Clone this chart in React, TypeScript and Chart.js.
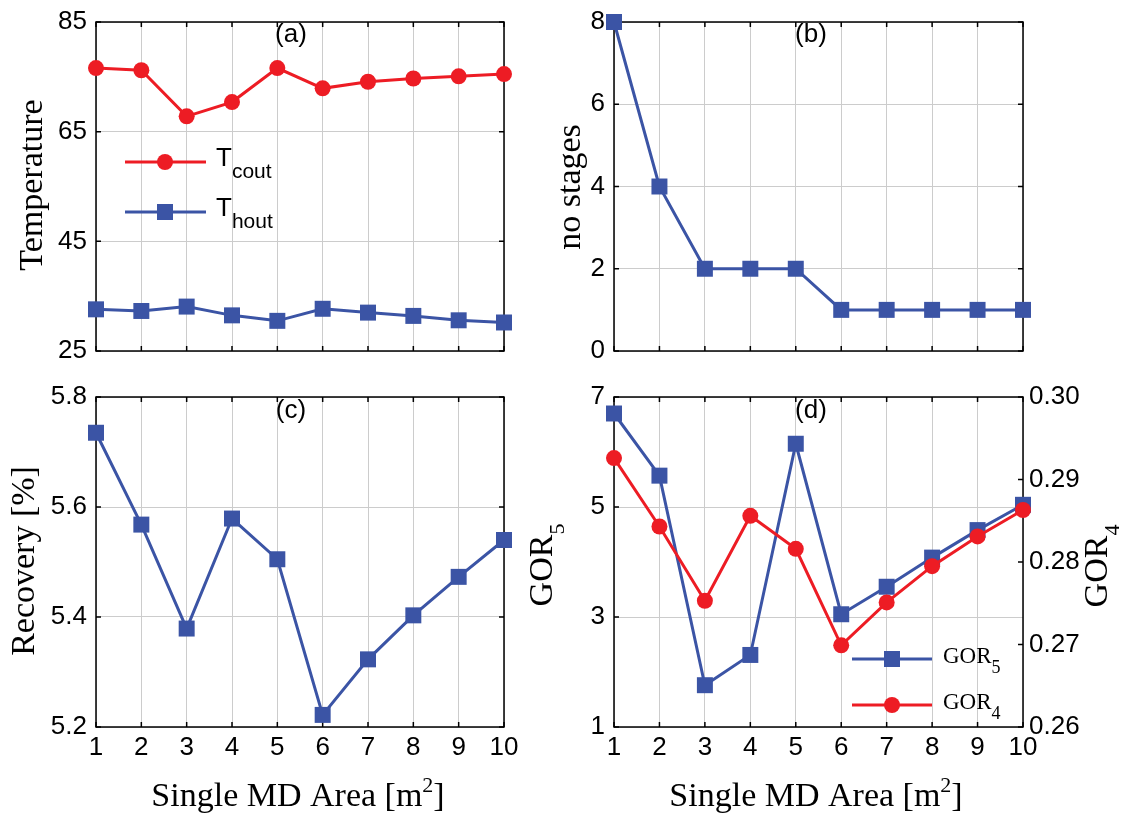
import React, { useEffect, useRef } from "react";
import { Chart, registerables } from "chart.js";

Chart.register(...registerables);

// ---------------- data ----------------
const xValues = [1, 2, 3, 4, 5, 6, 7, 8, 9, 10];
const xTickLabels = ["1", "2", "3", "4", "5", "6", "7", "8", "9", "10"];

const tCout = [76.6, 76.2, 67.8, 70.4, 76.6, 72.9, 74.1, 74.7, 75.1, 75.5];
const tHout = [32.6, 32.3, 33.1, 31.5, 30.5, 32.7, 32.0, 31.4, 30.6, 30.2];
const noStages = [8, 4, 2, 2, 2, 1, 1, 1, 1, 1];
const recovery = [5.735, 5.568, 5.379, 5.579, 5.505, 5.222, 5.323, 5.403, 5.473, 5.54];
const gor5 = [6.7, 5.57, 1.76, 2.31, 6.15, 3.05, 3.55, 4.08, 4.58, 5.04];
const gor4 = [0.2926, 0.2843, 0.2753, 0.2856, 0.2816, 0.2699, 0.2751, 0.2795, 0.2831, 0.2863];

const tempTicks = [25, 45, 65, 85];
const tempTickLabels = ["25", "45", "65", "85"];
const stageTicks = [0, 2, 4, 6, 8];
const stageTickLabels = ["0", "2", "4", "6", "8"];
const recoveryTicks = [5.2, 5.4, 5.6, 5.8];
const recoveryTickLabels = ["5.2", "5.4", "5.6", "5.8"];
const gor5Ticks = [1, 3, 5, 7];
const gor5TickLabels = ["1", "3", "5", "7"];
const gor4Ticks = [0.26, 0.27, 0.28, 0.29, 0.3];
const gor4TickLabels = ["0.26", "0.27", "0.28", "0.29", "0.30"];

// ---------------- style ----------------
const RED = "#ED1C24";
const BLUE = "#3B54A5";
const GRID = "#cccccc";
const SANS = '"Liberation Sans", Arial, Helvetica, sans-serif';
const SERIF = '"Liberation Serif", "Times New Roman", Times, serif';
const W = 1122;
const H = 816;
const AX_W = 90;
const AX_H = 40;
const TICK_FONT = 26;

type Part = { text: string; kind?: "sub" | "sup" };
type TStyle = { family: string; size: number; small: number; subDy: number; supDy: number };

const titleStyle: TStyle = { family: SERIF, size: 34, small: 22, subDy: 12, supDy: 14 };
const legendSansStyle: TStyle = { family: SANS, size: 26, small: 21, subDy: 12, supDy: 10 };
const legendSerifStyle: TStyle = { family: SERIF, size: 23, small: 18, subDy: 10, supDy: 10 };

function drawRich(
  ctx: CanvasRenderingContext2D,
  parts: Part[],
  x: number,
  y: number,
  style: TStyle,
  align: "center" | "left",
  rotate: boolean
) {
  ctx.save();
  ctx.translate(x, y);
  if (rotate) ctx.rotate(-Math.PI / 2);
  ctx.fillStyle = "#000";
  ctx.textBaseline = "alphabetic";
  ctx.textAlign = "left";
  const fonts = parts.map((p) => `${p.kind ? style.small : style.size}px ${style.family}`);
  const widths = parts.map((p, i) => {
    ctx.font = fonts[i];
    return ctx.measureText(p.text).width;
  });
  const total = widths.reduce((a, b) => a + b, 0);
  let cx = align === "center" ? -total / 2 : 0;
  parts.forEach((p, i) => {
    ctx.font = fonts[i];
    const dy = p.kind === "sub" ? style.subDy : p.kind === "sup" ? -style.supDy : 0;
    ctx.fillText(p.text, cx, dy);
    cx += widths[i];
  });
  ctx.restore();
}

type Title = { parts: Part[]; x: number; y: number; rotate: boolean };
type LegendItem = { color: string; marker: "circle" | "rect"; y: number; parts: Part[] };
type LegendSpec = { x1: number; x2: number; mx: number; tx: number; style: TStyle; items: LegendItem[] };
type Series = { data: number[]; color: string; marker: "circle" | "rect"; axis?: string };
type AxisSpec = { ticks: number[]; labels: string[] };

type PanelSpec = {
  area: { l: number; r: number; t: number; b: number };
  series: Series[];
  y: AxisSpec;
  y2?: AxisSpec;
  showX: boolean;
  label: string;
  labelPos: [number, number];
  titles: Title[];
  legend?: LegendSpec;
};

function makeAxis(spec: AxisSpec, position: "left" | "right", grid: boolean) {
  return {
    type: "linear",
    position,
    min: spec.ticks[0],
    max: spec.ticks[spec.ticks.length - 1],
    afterBuildTicks: (s: any) => {
      s.ticks = spec.ticks.map((v) => ({ value: v }));
    },
    afterFit: (s: any) => {
      s.width = AX_W;
    },
    grid: grid
      ? { color: GRID, lineWidth: 1, drawTicks: false }
      : { display: false, drawTicks: false, drawOnChartArea: false },
    border: { display: false },
    ticks: {
      padding: position === "left" ? 9 : 6,
      color: "#000",
      font: { family: SANS, size: TICK_FONT, lineHeight: 1 },
      autoSkip: false,
      callback: (_v: any, i: number) => spec.labels[i],
    },
  };
}

function buildConfig(p: PanelSpec): any {
  const framePlugin = {
    id: "frame",
    beforeDatasetsDraw(chart: any) {
      const ctx: CanvasRenderingContext2D = chart.ctx;
      const { left, right, top, bottom } = chart.chartArea;
      const xs = chart.scales.x;
      const ys = chart.scales.y;
      const y2 = chart.scales.y2;
      const TL = 5;
      ctx.save();
      ctx.strokeStyle = "#000";
      ctx.lineWidth = 1.5;
      ctx.beginPath();
      xs.ticks.forEach((t: any) => {
        const px = xs.getPixelForValue(t.value);
        ctx.moveTo(px, bottom);
        ctx.lineTo(px, bottom - TL);
        ctx.moveTo(px, top);
        ctx.lineTo(px, top + TL);
      });
      ys.ticks.forEach((t: any) => {
        const py = ys.getPixelForValue(t.value);
        ctx.moveTo(left, py);
        ctx.lineTo(left + TL, py);
        if (!y2) {
          ctx.moveTo(right, py);
          ctx.lineTo(right - TL, py);
        }
      });
      if (y2) {
        y2.ticks.forEach((t: any) => {
          const py = y2.getPixelForValue(t.value);
          ctx.moveTo(right, py);
          ctx.lineTo(right - TL, py);
        });
      }
      ctx.stroke();
      ctx.strokeRect(left, top, right - left, bottom - top);
      ctx.restore();
    },
    afterDatasetsDraw(chart: any) {
      const ctx: CanvasRenderingContext2D = chart.ctx;
      ctx.save();
      ctx.fillStyle = "#000";
      ctx.font = `26px ${SANS}`;
      ctx.textAlign = "center";
      ctx.textBaseline = "middle";
      ctx.fillText(p.label, p.labelPos[0], p.labelPos[1]);
      ctx.restore();
      p.titles.forEach((t) => drawRich(ctx, t.parts, t.x, t.y, titleStyle, "center", t.rotate));
      if (p.legend) {
        const lg = p.legend;
        lg.items.forEach((it) => {
          ctx.save();
          ctx.strokeStyle = it.color;
          ctx.fillStyle = it.color;
          ctx.lineWidth = 3;
          ctx.beginPath();
          ctx.moveTo(lg.x1, it.y);
          ctx.lineTo(lg.x2, it.y);
          ctx.stroke();
          if (it.marker === "circle") {
            ctx.beginPath();
            ctx.arc(lg.mx, it.y, 8, 0, Math.PI * 2);
            ctx.fill();
          } else {
            ctx.fillRect(lg.mx - 8, it.y - 8, 16, 16);
          }
          ctx.restore();
          drawRich(ctx, it.parts, lg.tx, it.y + 4, lg.style, "left", false);
        });
      }
    },
  };

  const datasets = p.series.map((s) => ({
    data: xValues.map((x, i) => ({ x, y: s.data[i] })),
    borderColor: s.color,
    backgroundColor: s.color,
    borderWidth: 3,
    pointStyle: s.marker,
    pointRadius: s.marker === "circle" ? 8 : 11.3,
    pointBorderWidth: 0,
    pointBackgroundColor: s.color,
    tension: 0,
    clip: false,
    yAxisID: s.axis || "y",
  }));

  const scales: any = {
    x: {
      type: "linear",
      min: xValues[0],
      max: xValues[xValues.length - 1],
      afterBuildTicks: (s: any) => {
        s.ticks = xValues.map((v) => ({ value: v }));
      },
      afterFit: (s: any) => {
        s.height = AX_H;
      },
      grid: { color: GRID, lineWidth: 1, drawTicks: false },
      border: { display: false },
      ticks: {
        display: p.showX,
        padding: 8,
        color: "#000",
        font: { family: SANS, size: TICK_FONT, lineHeight: 1 },
        maxRotation: 0,
        autoSkip: false,
        callback: (_v: any, i: number) => xTickLabels[i],
      },
    },
    y: makeAxis(p.y, "left", true),
  };
  if (p.y2) scales.y2 = makeAxis(p.y2, "right", false);

  return {
    type: "line",
    data: { datasets },
    options: {
      responsive: false,
      animation: false,
      events: [],
      layout: {
        padding: {
          left: p.area.l - AX_W,
          right: W - p.area.r - (p.y2 ? AX_W : 0),
          top: p.area.t,
          bottom: H - p.area.b - AX_H,
        },
      },
      plugins: { legend: { display: false }, tooltip: { enabled: false } },
      scales,
    },
    plugins: [framePlugin],
  };
}

const xTitle: Part[] = [{ text: "Single MD Area [m" }, { text: "2", kind: "sup" }, { text: "]" }];

const panels: PanelSpec[] = [
  {
    area: { l: 96, r: 504, t: 21, b: 351 },
    series: [
      { data: tCout, color: RED, marker: "circle" },
      { data: tHout, color: BLUE, marker: "rect" },
    ],
    y: { ticks: tempTicks, labels: tempTickLabels },
    showX: false,
    label: "(a)",
    labelPos: [291, 35],
    titles: [{ parts: [{ text: "Temperature" }], x: 42, y: 185, rotate: true }],
    legend: {
      x1: 125,
      x2: 206,
      mx: 165,
      tx: 216,
      style: legendSansStyle,
      items: [
        { color: RED, marker: "circle", y: 162, parts: [{ text: "T" }, { text: "cout", kind: "sub" }] },
        { color: BLUE, marker: "rect", y: 212, parts: [{ text: "T" }, { text: "hout", kind: "sub" }] },
      ],
    },
  },
  {
    area: { l: 614, r: 1023, t: 21, b: 351 },
    series: [{ data: noStages, color: BLUE, marker: "rect" }],
    y: { ticks: stageTicks, labels: stageTickLabels },
    showX: false,
    label: "(b)",
    labelPos: [811, 35],
    titles: [{ parts: [{ text: "no stages" }], x: 580, y: 187, rotate: true }],
  },
  {
    area: { l: 96, r: 504, t: 397, b: 727 },
    series: [{ data: recovery, color: BLUE, marker: "rect" }],
    y: { ticks: recoveryTicks, labels: recoveryTickLabels },
    showX: true,
    label: "(c)",
    labelPos: [291, 411],
    titles: [
      { parts: [{ text: "Recovery [%]" }], x: 34, y: 561, rotate: true },
      { parts: xTitle, x: 298, y: 806, rotate: false },
    ],
  },
  {
    area: { l: 614, r: 1023, t: 397, b: 727 },
    series: [
      { data: gor4, color: RED, marker: "circle", axis: "y2" },
      { data: gor5, color: BLUE, marker: "rect" },
    ],
    y: { ticks: gor5Ticks, labels: gor5TickLabels },
    y2: { ticks: gor4Ticks, labels: gor4TickLabels },
    showX: true,
    label: "(d)",
    labelPos: [811, 411],
    titles: [
      { parts: [{ text: "GOR" }, { text: "5", kind: "sub" }], x: 552, y: 565, rotate: true },
      { parts: [{ text: "GOR" }, { text: "4", kind: "sub" }], x: 1107, y: 566, rotate: true },
      { parts: xTitle, x: 816, y: 806, rotate: false },
    ],
    legend: {
      x1: 852,
      x2: 932,
      mx: 892,
      tx: 943,
      style: legendSerifStyle,
      items: [
        { color: BLUE, marker: "rect", y: 659, parts: [{ text: "GOR" }, { text: "5", kind: "sub" }] },
        { color: RED, marker: "circle", y: 705, parts: [{ text: "GOR" }, { text: "4", kind: "sub" }] },
      ],
    },
  },
];

function Panel({ spec }: { spec: PanelSpec }) {
  const ref = useRef<HTMLCanvasElement>(null);
  useEffect(() => {
    if (!ref.current) return;
    const chart = new Chart(ref.current, buildConfig(spec));
    return () => chart.destroy();
  }, [spec]);
  return (
    <canvas
      ref={ref}
      width={W}
      height={H}
      style={{ position: "absolute", left: 0, top: 0, width: W, height: H }}
    />
  );
}

export default function App() {
  return (
    <div
      style={{
        position: "absolute",
        left: 0,
        top: 0,
        width: W,
        height: H,
        background: "#fff",
        overflow: "hidden",
      }}
    >
      {panels.map((p, i) => (
        <Panel key={i} spec={p} />
      ))}
    </div>
  );
}
